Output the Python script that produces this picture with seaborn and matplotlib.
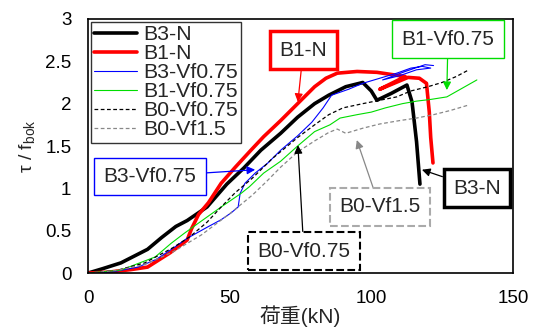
import matplotlib
matplotlib.use("Agg")
import matplotlib.pyplot as plt
import seaborn as sns

# load (kN) vs tau / f_bok
b3n_x = [0, 5, 11.6, 21, 26, 31, 35, 42, 49, 55, 61, 68, 74, 80, 85, 91, 97, 100, 102, 107, 112.6, 114.4, 116, 117.2]
b3n_y = [0, 0.05, 0.12, 0.28, 0.42, 0.55, 0.62, 0.78, 1.05, 1.24, 1.45, 1.65, 1.84, 2.0, 2.1, 2.2, 2.25, 2.15, 2.04, 2.12, 2.22, 2.02, 1.55, 1.05]

b1n_x = [0, 7, 15, 21, 29, 35, 36.5, 39, 42.5, 47, 52, 57.5, 62, 68, 74, 80, 84, 88, 95, 102, 108, 112, 103, 113, 117, 119.5, 120.5, 121, 121.8]
b1n_y = [0, 0.01, 0.04, 0.07, 0.24, 0.39, 0.52, 0.69, 0.83, 1.06, 1.25, 1.45, 1.61, 1.8, 2.0, 2.2, 2.3, 2.36, 2.38, 2.37, 2.34, 2.32, 2.17, 2.31, 2.3, 2.24, 1.9, 1.6, 1.3]

b3v_x = [0, 8, 17.6, 24, 29, 35, 42, 47, 50.5, 53, 53.7, 55.4, 59, 63.5, 68, 74, 79, 83, 86, 92, 97, 103, 109, 114, 118, 121, 116, 110, 104, 112, 119, 122]
b3v_y = [0, 0.01, 0.07, 0.16, 0.27, 0.41, 0.54, 0.63, 0.71, 0.78, 0.94, 1.06, 1.18, 1.3, 1.45, 1.62, 1.78, 1.95, 2.1, 2.17, 2.24, 2.3, 2.36, 2.42, 2.44, 2.42, 2.4, 2.33, 2.28, 2.38, 2.46, 2.45]

b1v_x = [0, 11.6, 23.7, 29.3, 34, 39, 47, 54, 57, 62, 68, 74, 80, 85.4, 89, 95, 100, 105, 111, 116, 121, 126.7, 132, 137.3]
b1v_y = [0, 0.035, 0.19, 0.35, 0.47, 0.59, 0.78, 0.94, 1.02, 1.18, 1.32, 1.5, 1.67, 1.75, 1.83, 1.87, 1.9, 1.95, 2.0, 2.03, 2.05, 2.08, 2.18, 2.28]

b0v_x = [0, 10, 20, 30, 36, 42, 47, 52, 58, 65, 74, 80, 85, 90, 97, 103, 109, 114, 120, 125, 130, 134.5]
b0v_y = [0, 0.03, 0.12, 0.3, 0.43, 0.6, 0.78, 0.95, 1.12, 1.35, 1.6, 1.75, 1.87, 1.95, 2.0, 2.04, 2.08, 2.15, 2.2, 2.25, 2.32, 2.4]

b015_x = [0, 10, 20, 30, 40, 50, 58, 63, 68, 74, 80, 85, 88, 91, 97, 103, 110, 116, 122, 128, 134]
b015_y = [0, 0.03, 0.1, 0.25, 0.45, 0.7, 0.92, 1.08, 1.25, 1.43, 1.56, 1.66, 1.7, 1.65, 1.71, 1.76, 1.8, 1.83, 1.87, 1.92, 1.98]

sns.set_style("white")
plt.rcParams["font.family"] = ["Liberation Sans", "Noto Sans CJK JP"]
plt.rcParams["mathtext.default"] = "regular"

fig = plt.figure(figsize=(5.37, 3.27), dpi=100)
ax = fig.add_axes([0.164, 0.165, 0.791, 0.777])

kw = dict(sort=False, estimator=None, ax=ax)
sns.lineplot(x=b3n_x, y=b3n_y, color="black", lw=2.6, label="B3-N", **kw)
sns.lineplot(x=b1n_x, y=b1n_y, color="#ff0000", lw=2.6, label="B1-N", **kw)
sns.lineplot(x=b3v_x, y=b3v_y, color="#0000ff", lw=0.8, label="B3-Vf0.75", **kw)
sns.lineplot(x=b1v_x, y=b1v_y, color="#00dd00", lw=0.8, label="B1-Vf0.75", **kw)
sns.lineplot(x=b0v_x, y=b0v_y, color="black", lw=0.9, ls=(0, (3, 2)), label="B0-Vf0.75", **kw)
sns.lineplot(x=b015_x, y=b015_y, color="#888888", lw=0.9, ls=(0, (3, 2)), label="B0-Vf1.5", **kw)

ax.set_xlim(0, 150)
ax.set_ylim(0, 3)
ax.set_xticks([0, 50, 100, 150])
ax.set_yticks([0, 0.5, 1, 1.5, 2, 2.5, 3])
ax.set_yticklabels(["0", "0.5", "1", "1.5", "2", "2.5", "3"])
ax.tick_params(direction="in", length=4, width=1, labelsize=13.5, colors="black", pad=12)
for s in ax.spines.values():
    s.set_color("black")
    s.set_linewidth(1.2)
ax.set_xlabel("荷重(kN)", fontsize=15, labelpad=-1)
ax.set_ylabel("τ / f$_{bok}$", fontsize=14, labelpad=6)

leg = ax.legend(loc="upper left", fontsize=15.3, handlelength=2.0, handletextpad=0.3,
                labelspacing=0.0, borderpad=0.15, borderaxespad=0.15, frameon=True, fancybox=False)
leg.get_frame().set_edgecolor("black")
leg.get_frame().set_linewidth(1)

def note(txt, xy, xytext, ec, lw=1.0, ls="-", ac=None):
    ax.annotate(txt, xy=xy, xytext=xytext, fontsize=15, ha="center", va="center",
                bbox=dict(boxstyle="square,pad=0.45", fc="white", ec=ec, lw=lw, ls=ls),
                arrowprops=dict(arrowstyle="-|>", color=ac or ec, lw=0.9,
                                mutation_scale=12, shrinkA=0, shrinkB=0))

note("B1-N", (74.1, 2.02), (76, 2.63), "#ff0000", lw=2.5)
note("B1-Vf0.75", (126.7, 2.16), (127.1, 2.76), "#00dd00")
note("B3-Vf0.75", (59, 1.22), (21.9, 1.14), "#0000ff")
note("B0-Vf0.75", (74.1, 1.51), (76.2, 0.26), "black", lw=1.5, ls="--")
note("B0-Vf1.5", (94.9, 1.57), (103, 0.78), "#aaaaaa", lw=1.5, ls="--", ac="#888888")
note("B3-N", (117.9, 1.22), (137.3, 1.0), "black", lw=2.5)

fig.savefig("out.png", dpi=100)
